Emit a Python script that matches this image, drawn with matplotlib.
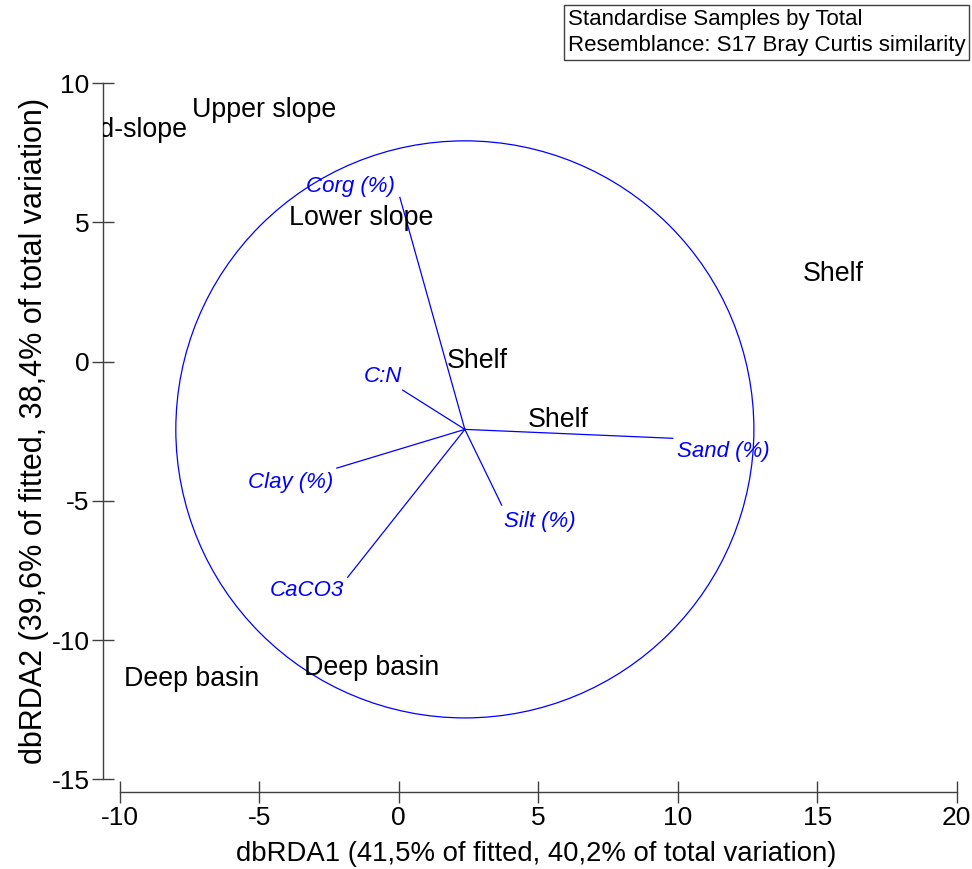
import matplotlib
matplotlib.use('Agg')
import matplotlib.pyplot as plt
from matplotlib.patches import Circle, Rectangle

plt.rcParams['font.family'] = ['Liberation Sans', 'DejaVu Sans']
plt.rcParams['axes.unicode_minus'] = False

# vector overlay (correlations of the environmental variables)
origin = (2.37, -2.43)
circle_radius = 10.36
var_names = ['Corg (%)', 'C:N', 'Clay (%)', 'CaCO3', 'Silt (%)', 'Sand (%)']
var_x = [0.04, 0.14, -2.22, -1.83, 3.69, 9.82]
var_y = [5.90, -1.02, -3.82, -7.74, -5.15, -2.75]
var_lab_x = [-1.72, -0.57, -3.87, -3.30, 5.05, 11.65]
var_lab_y = [6.30, -0.52, -4.33, -8.20, -5.73, -3.21]

# samples, plotted as their group names
samples = ['Upper slope', 'Mid-slope', 'Lower slope', 'Shelf', 'Shelf', 'Shelf',
           'Deep basin', 'Deep basin']
samp_x = [-4.84, -9.64, -1.36, 15.59, 2.80, 5.73, -7.42, -0.97]
samp_y = [9.03, 8.31, 5.15, 3.14, 0.02, -2.10, -11.40, -11.00]

xticks = [-10, -5, 0, 5, 10, 15, 20]
yticks = [-15, -10, -5, 0, 5, 10]

fig = plt.figure(figsize=(9.72, 8.69), dpi=100)
ax = fig.add_axes([103/972, 77/869, 866/972, 723/869])
ax.set_xlim(-10.6, 20.44)
ax.set_ylim(-15.45, 10.51)

# circle and vectors
ax.add_patch(Circle(origin, circle_radius, fill=False, edgecolor='blue', lw=0.9))
for i in range(len(var_names)):
    ax.plot([origin[0], var_x[i]], [origin[1], var_y[i]], color='blue', lw=0.9)
    ax.text(var_lab_x[i], var_lab_y[i], var_names[i], color='blue', style='italic',
            fontsize=16, ha='center', va='center')

for i in range(len(samples)):
    t = ax.text(samp_x[i], samp_y[i], samples[i], fontsize=19.3, ha='center',
                va='center', color='black', clip_on=True)
    t.set_clip_box(ax.bbox)

# axes, PRIMER style
for s in ['top', 'right']:
    ax.spines[s].set_visible(False)
for s in ['left', 'bottom']:
    ax.spines[s].set_color('#404040')
    ax.spines[s].set_linewidth(1.0)
ax.spines['left'].set_bounds(-15, 10)
ax.spines['bottom'].set_bounds(-10, 20)
ax.set_xticks(xticks)
ax.set_yticks(yticks)
ax.tick_params(direction='inout', length=15.6, width=1.0, color='#404040',
               labelsize=19, pad=2)
ax.set_xlabel('dbRDA1 (41,5% of fitted, 40,2% of total variation)', fontsize=19.8,
              labelpad=8)
ax.set_ylabel('dbRDA2 (39,6% of fitted, 38,4% of total variation)', fontsize=22,
              labelpad=2)

# info box
fig.patches.append(Rectangle((564/972, 1 - 60/869), 405/972, 55/869, fill=False,
                             edgecolor='#404040', lw=1.0, transform=fig.transFigure))
fig.text(568/972, 1 - 19/869, 'Standardise Samples by Total', fontsize=16, va='center')
fig.text(568/972, 1 - 45/869, 'Resemblance: S17 Bray Curtis similarity', fontsize=16,
         va='center')

fig.savefig('out.png', dpi=100)
